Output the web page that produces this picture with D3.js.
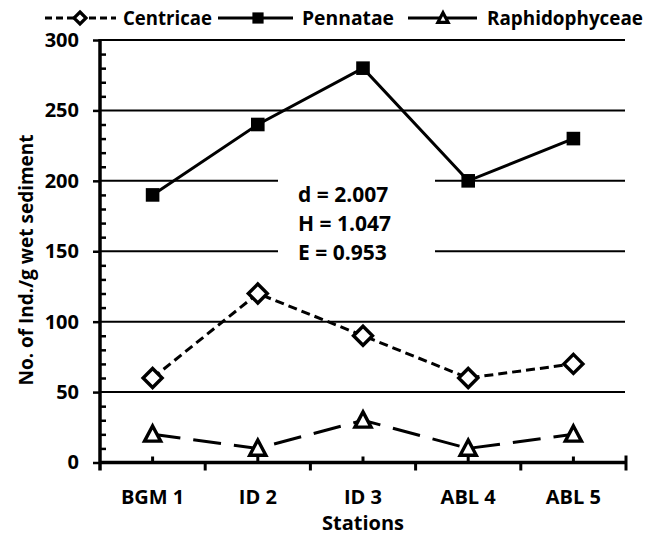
<!DOCTYPE html>
<html>
<head>
<meta charset="utf-8">
<script src="https://cdn.jsdelivr.net/npm/d3@7"></script>
<style>
  html, body { margin: 0; padding: 0; background: #fff; }
  svg { display: block; }
  text { font-family: "Open Sans", "Noto Sans", sans-serif; font-weight: bold; fill: #000; }
</style>
</head>
<body>
<svg id="chart" width="653" height="544"></svg>
<script>
const stations = ["BGM 1", "ID 2", "ID 3", "ABL 4", "ABL 5"];
const centricae = [60, 120, 90, 60, 70];
const pennatae = [190, 240, 280, 200, 230];
const raphidophyceae = [20, 10, 30, 10, 20];
const yTicks = [0, 50, 100, 150, 200, 250, 300];
const annotation = ["d = 2.007", "H = 1.047", "E = 0.953"];

const series = [
  { name: "Centricae", values: centricae, dash: "9,5", legendDash: "7,4", marker: "diamond" },
  { name: "Pennatae", values: pennatae, dash: null, legendDash: null, marker: "square" },
  { name: "Raphidophyceae", values: raphidophyceae, dash: "28,13", legendDash: null, marker: "triangle" }
];

const svg = d3.select("#chart");
const margin = { left: 100, right: 27, top: 40, bottom: 81.5 };
const W = 653, H = 544;
const x = d3.scaleBand().domain(stations).range([margin.left, W - margin.right]).paddingInner(0).paddingOuter(0);
const y = d3.scaleLinear().domain([0, 300]).range([H - margin.bottom, margin.top]);
const cx = d => x(d) + x.bandwidth() / 2;

// gridlines
svg.append("g").selectAll("line").data(yTicks.filter(t => t > 0)).join("line")
  .attr("x1", margin.left).attr("x2", W - margin.right - 1)
  .attr("y1", d => y(d)).attr("y2", d => y(d))
  .attr("stroke", "#000").attr("stroke-width", 2);

// annotation box (white background)
const annX = 298;
const ann = svg.append("g");
ann.append("rect").attr("x", 278).attr("y", y(205)).attr("width", 157).attr("height", y(145) - y(205)).attr("fill", "#fff");
ann.selectAll("text").data(annotation).join("text")
  .attr("x", annX).attr("y", (d, i) => 202 + i * 29)
  .style("font-size", "21px").text(d => d);

// y axis
const yAxis = d3.axisLeft(y).tickValues(yTicks).tickSize(7).tickPadding(14);
const gy = svg.append("g").attr("transform", `translate(${margin.left},0)`).call(yAxis);
gy.select(".domain").attr("stroke-width", 3.5).attr("d", `M0,${y(300) - 1}V${y(0) + 8}`);
gy.selectAll(".tick line").attr("stroke-width", 2.5);
gy.selectAll(".tick text").style("font-size", "20px");
// minor ticks
const minor = d3.range(0, 301, 10).filter(v => v % 50 !== 0);
svg.append("g").attr("transform", `translate(${margin.left},0)`).call(d3.axisRight(y).tickValues(minor).tickSize(6).tickFormat(""))
  .call(g => g.select(".domain").remove())
  .selectAll(".tick line").attr("stroke-width", 2.5);

// x axis
const gx = svg.append("g").attr("transform", `translate(0,${y(0)})`);
gx.append("line").attr("x1", margin.left).attr("x2", W - margin.right + 1).attr("stroke", "#000").attr("stroke-width", 3.5);
const bounds = stations.map(s => x(s)).concat([x(stations[stations.length - 1]) + x.bandwidth()]);
gx.selectAll("line.major").data(bounds.slice(1)).join("line").attr("class", "major")
  .attr("x1", d => d).attr("x2", d => d).attr("y1", (d, i) => i === bounds.length - 2 ? -7 : 0).attr("y2", 8)
  .attr("stroke", "#000").attr("stroke-width", 3);
gx.selectAll("line.minor").data(stations).join("line").attr("class", "minor")
  .attr("x1", d => cx(d)).attr("x2", d => cx(d)).attr("y1", -6).attr("y2", 0)
  .attr("stroke", "#000").attr("stroke-width", 3);
gx.selectAll("text").data(stations).join("text")
  .attr("x", d => cx(d)).attr("y", 41).attr("text-anchor", "middle")
  .style("font-size", "20px").text(d => d);

// axis titles
svg.append("text").attr("x", (margin.left + W - margin.right) / 2).attr("y", 530).attr("text-anchor", "middle")
  .style("font-size", "20px").text("Stations");
svg.append("text").attr("transform", `translate(33,260) rotate(-90)`).attr("text-anchor", "middle")
  .style("font-size", "19px").text("No. of Ind./g wet sediment");

// marker drawing
function drawMarker(g, type, px, py, s, sw) {
  if (type === "diamond") {
    g.append("path").attr("d", `M${px},${py - s}L${px + s},${py}L${px},${py + s}L${px - s},${py}Z`)
      .attr("fill", "#fff").attr("stroke", "#000").attr("stroke-width", sw);
  } else if (type === "square") {
    g.append("rect").attr("x", px - s * 0.8).attr("y", py - s * 0.8).attr("width", s * 1.6).attr("height", s * 1.6)
      .attr("fill", "#000");
  } else {
    const h = s * 1.6, w = s * 1.7;
    g.append("path").attr("d", `M${px},${py - h * 0.55}L${px + w / 2},${py + h * 0.45}L${px - w / 2},${py + h * 0.45}Z`)
      .attr("fill", "#fff").attr("stroke", "#000").attr("stroke-width", sw).attr("stroke-linejoin", "miter");
  }
}

// lines and markers
const line = d3.line().x(d => cx(d.s)).y(d => y(d.v));
series.forEach(se => {
  const pts = stations.map((s, i) => ({ s, v: se.values[i] }));
  svg.append("path").datum(pts).attr("d", line).attr("fill", "none").attr("stroke", "#000")
    .attr("stroke-width", 3).attr("stroke-dasharray", se.dash);
  const mg = svg.append("g");
  pts.forEach(p => drawMarker(mg, se.marker, cx(p.s), y(p.v), se.marker === "square" ? 8.5 : 9.5, 3.4));
});

// legend
const legend = [
  { x1: 45, x2: 116, mx: 80, tx: 123, len: 89 },
  { x1: 218, x2: 293, mx: 258, tx: 302, len: 92 },
  { x1: 408, x2: 477, mx: 443, tx: 487, len: 156 }
];
const lg = svg.append("g");
series.forEach((se, i) => {
  const L = legend[i], ly = 18;
  lg.append("line").attr("x1", L.x1).attr("x2", L.x2).attr("y1", ly).attr("y2", ly)
    .attr("stroke", "#000").attr("stroke-width", 3).attr("stroke-dasharray", se.legendDash);
  drawMarker(lg, se.marker, L.mx, ly, se.marker === "square" ? 7 : 6, 3.2);
  lg.append("text").attr("x", L.tx).attr("y", 25).style("font-size", "20px")
    .attr("textLength", L.len).attr("lengthAdjust", "spacingAndGlyphs").text(se.name);
});
</script>
</body>
</html>
